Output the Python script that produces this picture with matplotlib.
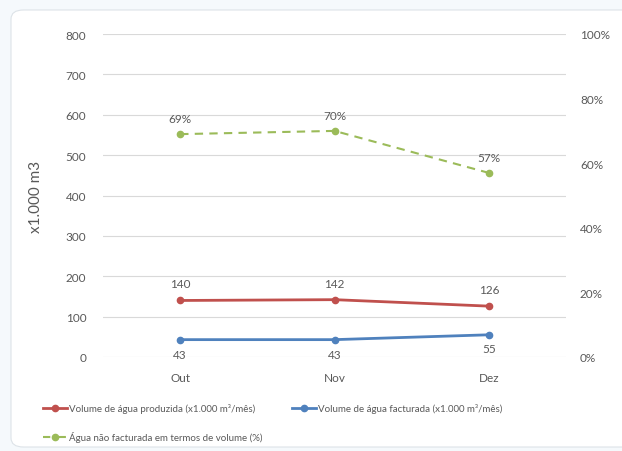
import matplotlib.pyplot as plt
from matplotlib.lines import Line2D
from matplotlib.patches import FancyBboxPatch

plt.rcParams['font.family'] = ['Lato', 'DejaVu Sans']

# dados
meses = ['Out', 'Nov', 'Dez']
produzida = [140, 142, 126]
facturada = [43, 43, 55]
nao_facturada = [69, 70, 57]  # %

cor_red = '#C0504D'
cor_blue = '#4F81BD'
cor_green = '#9BBB59'
cor_txt = '#595959'

fig = plt.figure(figsize=(6.22, 4.52), dpi=100)
fig.patch.set_facecolor('#F5F9FC')

# painel branco arredondado
painel = FancyBboxPatch((11 / 622, 4 / 452), 640 / 622, 437 / 452,
                        boxstyle='round,pad=0,rounding_size=0.02',
                        transform=fig.transFigure, facecolor='white',
                        edgecolor='#DDE3E8', linewidth=0.8, zorder=-10)
fig.patches.append(painel)

ax = fig.add_axes([103 / 622, 1 - 358 / 452, 463 / 622, 323 / 452])
ax.set_facecolor('none')
x = range(len(meses))

ax.plot(x, produzida, color=cor_red, lw=2, marker='o', ms=4.5, zorder=3)
ax.plot(x, facturada, color=cor_blue, lw=2, marker='o', ms=4.5, zorder=3)
ax.set_ylim(0, 800)
ax.set_xlim(-0.5, 2.5)
ax.set_yticks(range(0, 801, 100))
ax.set_xticks(list(x))
ax.set_xticklabels(meses)
ax.grid(axis='y', color='#D9D9D9', lw=0.8)
ax.set_axisbelow(True)
for s in ax.spines.values():
    s.set_visible(False)
ax.tick_params(length=0, labelsize=8.5, colors=cor_txt, pad=12)
ax.tick_params(axis='x', pad=11)
ax.set_ylabel('x1.000 m3', fontsize=11, color=cor_txt, labelpad=16)

for i, v in enumerate(produzida):
    ax.annotate(f'{v}', (i, v), xytext=(0, 8), textcoords='offset points',
                ha='center', va='bottom', fontsize=8.5, color=cor_txt)
for i, v in enumerate(facturada):
    if i == 2:
        ax.annotate(f'{v}', (i, v), xytext=(0, -6), textcoords='offset points',
                    ha='center', va='top', fontsize=8.5, color=cor_txt)
    else:
        ax.annotate(f'{v}', (i, v), xytext=(0, -7), textcoords='offset points',
                    ha='center', va='top', fontsize=8.5, color=cor_txt)

ax2 = ax.twinx()
ax2.plot(x, nao_facturada, color=cor_green, lw=1.5, ls=(0, (4, 3)),
         marker='o', ms=4.5, zorder=3)
ax2.set_ylim(0, 100)
ax2.set_yticks(range(0, 101, 20))
ax2.set_yticklabels([f'{t}%' for t in range(0, 101, 20)])
for s in ax2.spines.values():
    s.set_visible(False)
ax2.tick_params(length=0, labelsize=8.5, colors=cor_txt, pad=10)
for i, v in enumerate(nao_facturada):
    ax2.annotate(f'{v}%', (i, v), xytext=(0, 7), textcoords='offset points',
                 ha='center', va='bottom', fontsize=8.5, color=cor_txt)

# legenda
def item(x0, y0, cor, ls, texto):
    fy = 1 - y0 / 452
    fig.add_artist(Line2D([x0 / 622, (x0 + 24) / 622], [fy, fy], color=cor,
                          lw=2 if ls == '-' else 1.5, ls=ls,
                          transform=fig.transFigure))
    fig.add_artist(Line2D([(x0 + 12) / 622], [fy], color=cor, marker='o',
                          ms=4.5, transform=fig.transFigure))
    fig.text((x0 + 26) / 622, fy, texto, fontsize=7, color=cor_txt,
             va='center', ha='left')

item(43, 409, cor_red, '-', 'Volume de água produzida (x1.000 m³/mês)')
item(292, 409, cor_blue, '-', 'Volume de água facturada (x1.000 m³/mês)')
item(43, 438, cor_green, (0, (3.5, 4)), 'Água não facturada em termos de volume (%)')

fig.savefig('out.png', dpi=100)
